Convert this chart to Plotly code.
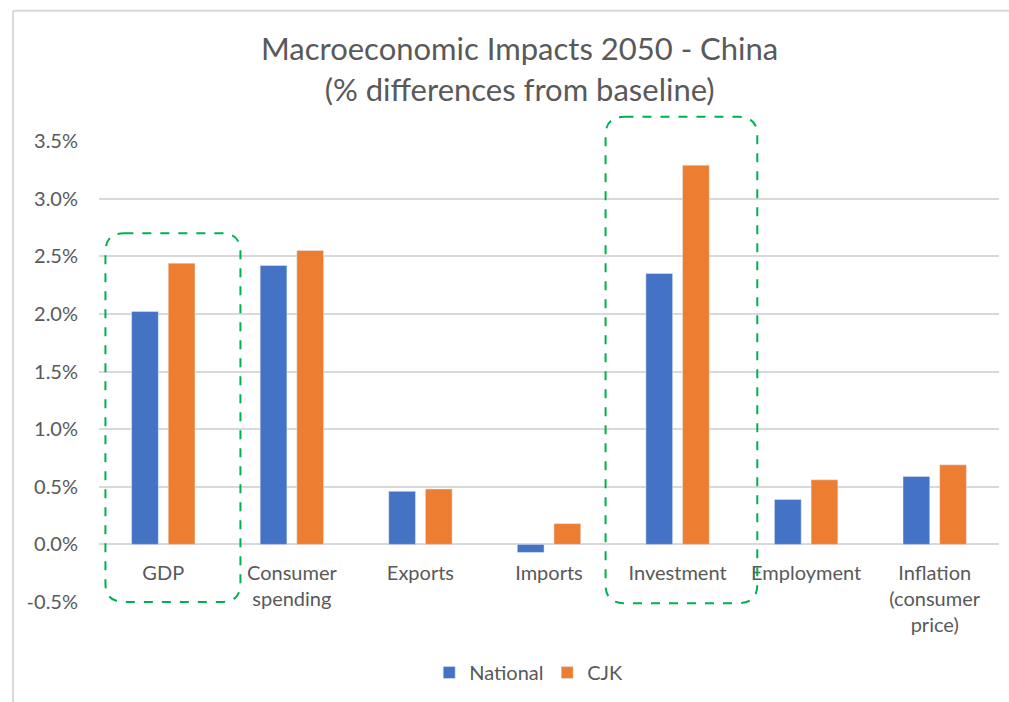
import plotly.graph_objects as go

categories = ["GDP", "Consumer<br>spending", "Exports", "Imports", "Investment",
              "Employment", "Inflation<br>(consumer<br>price)"]
national = [2.02, 2.42, 0.46, -0.07, 2.35, 0.39, 0.59]
cjk = [2.44, 2.55, 0.48, 0.18, 3.29, 0.56, 0.69]
y_ticks = [-0.5, 0.0, 0.5, 1.0, 1.5, 2.0, 2.5, 3.0, 3.5]
y_tick_labels = [f"{v:.1f}%" for v in y_ticks]

FONT = "Lato"
GREY = "#595959"
GRID = "#d9d9d9"
Y_RANGE = [-0.5, 3.5]
N = len(categories)

fig = go.Figure()
fig.add_trace(go.Bar(name="National", x=list(range(N)), y=national, marker_color="#4472C4"))
fig.add_trace(go.Bar(name="CJK", x=list(range(N)), y=cjk, marker_color="#ED7D31"))


def px(i):
    return (i + 0.5) / N


def py(v):
    return (v - Y_RANGE[0]) / (Y_RANGE[1] - Y_RANGE[0])


def rounded(x0, x1, y0, y1, rx=0.021, ry=0.04):
    return (f"M {x0+rx},{y1} L {x1-rx},{y1} Q {x1},{y1} {x1},{y1-ry} "
            f"L {x1},{y0+ry} Q {x1},{y0} {x1-rx},{y0} L {x0+rx},{y0} "
            f"Q {x0},{y0} {x0},{y0+ry} L {x0},{y1-ry} Q {x0},{y1} {x0+rx},{y1} Z")


shapes = []
for (c0, c1, v0, v1) in [(-0.45, 0.6, -0.5, 2.70), (3.44, 4.62, -0.51, 3.71)]:
    shapes.append(dict(type="path", xref="paper", yref="paper",
                       path=rounded(px(c0), px(c1), py(v0), py(v1)),
                       line=dict(color="#00B050", width=2, dash="dash"),
                       fillcolor="rgba(0,0,0,0)", layer="above"))
# screenshot frame lines (top and left)
shapes.append(dict(type="line", xref="paper", yref="paper", x0=-0.0956, x1=1.2,
                   y0=1.2826, y1=1.2826, line=dict(color="#d9d9d9", width=2)))
shapes.append(dict(type="line", xref="paper", yref="paper", x0=-0.0956, x1=-0.0956,
                   y0=1.2826, y1=-0.3, line=dict(color="#d9d9d9", width=2)))

fig.update_layout(
    width=1009, height=702,
    margin=dict(l=99, r=10, t=141, b=95),
    paper_bgcolor="white", plot_bgcolor="white",
    font=dict(family=FONT, color=GREY, size=20),
    title=dict(text="Macroeconomic Impacts 2050 - China<br>(% differences from baseline)",
               x=0.515, xanchor="center", y=0.914, yanchor="top",
               font=dict(family=FONT, size=31, color=GREY)),
    barmode="group", bargap=0.43, bargroupgap=0.27,
    showlegend=True,
    legend=dict(orientation="h", x=0.498, xanchor="center", y=-0.153, yanchor="middle",
                entrywidth=73, font=dict(size=20, color=GREY)),
    xaxis=dict(tickmode="array", tickvals=list(range(N)), ticktext=categories,
               range=[-0.5, N - 0.5], anchor="free", position=py(0),
               showline=False, showgrid=False, zeroline=False, ticks="",
               tickfont=dict(size=20, color=GREY), ticklabelstandoff=15),
    yaxis=dict(range=Y_RANGE, tickmode="array", tickvals=y_ticks, ticktext=y_tick_labels,
               showgrid=True, gridcolor=GRID, gridwidth=1.5,
               zeroline=True, zerolinecolor=GRID, zerolinewidth=1.5,
               showline=False, ticks="", tickfont=dict(size=20, color=GREY),
               ticklabelstandoff=20),
    shapes=shapes,
)

fig.write_html("out.html")
